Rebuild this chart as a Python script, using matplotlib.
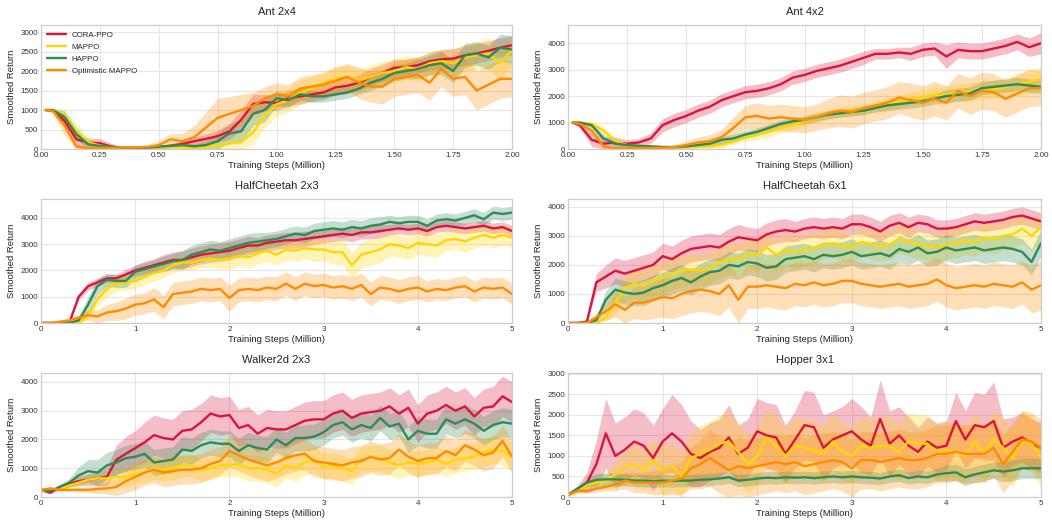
import numpy as np
import matplotlib
matplotlib.use('Agg')
import matplotlib.pyplot as plt

plt.style.use('seaborn-v0_8-whitegrid')
plt.rcParams['font.family'] = ['Liberation Sans', 'DejaVu Sans']

methods = ['CORA-PPO', 'MAPPO', 'HAPPO', 'Optimistic MAPPO']
colors = ['#DC143C', '#FFD700', '#2E8B57', '#FF8C00']

# x grids (training steps, million)
x_ant = np.r_[0.02, np.arange(1, 41) * 0.05]
x_long = np.arange(51) * 0.1

# ---------------- Ant 2x4 ----------------
ant24_cora = [1000, 990, 720, 250, 160, 150, 60, 20, 30, 40, 50, 80, 130, 200, 260, 330, 450, 750, 1150, 1200,
              1180, 1300, 1350, 1400, 1450, 1580, 1620, 1700, 1850, 1950, 2080, 2100, 2150, 2250, 2300, 2320, 2400,
              2450, 2520, 2600, 2660]
ant24_mappo = [1000, 1000, 870, 450, 170, 90, 40, 30, 30, 30, 40, 50, 40, 40, 50, 90, 140, 190, 420, 850,
               1150, 1250, 1450, 1550, 1700, 1800, 1850, 1750, 1850, 1950, 2000, 2100, 2050, 2200, 2250, 2200, 2350,
               2400, 2450, 2200, 2550]
ant24_happo = [1000, 1000, 820, 380, 120, 80, 60, 30, 30, 30, 60, 80, 100, 70, 100, 200, 400, 450, 900, 1000,
               1300, 1250, 1400, 1350, 1350, 1400, 1450, 1550, 1700, 1800, 1950, 2000, 2050, 2150, 2200, 2000, 2400,
               2450, 2350, 2600, 2550]
ant24_opt = [1000, 980, 600, 60, 20, 30, 30, 40, 40, 50, 100, 250, 200, 300, 550, 800, 900, 1000, 1100, 1300,
             1400, 1350, 1550, 1600, 1650, 1750, 1850, 1700, 1600, 1600, 1800, 1850, 1900, 1700, 2050, 1800, 1850,
             1500, 1650, 1800, 1800]
ant24_cora_bw = [20, 40, 150, 150, 120, 120, 80, 40, 30, 30, 40, 60, 80, 100, 120, 150, 200, 250, 250, 200,
                 200, 200, 200, 180, 180, 200, 200, 200, 220, 220, 220, 200, 200, 220, 250, 250, 250, 250, 250, 250, 250]
ant24_mappo_bw = [20, 40, 150, 200, 120, 80, 40, 30, 30, 30, 40, 50, 60, 80, 100, 150, 200, 250, 300, 300,
                  300, 300, 300, 300, 300, 300, 300, 300, 300, 300, 300, 300, 300, 300, 300, 350, 350, 350, 400, 450, 400]
ant24_happo_bw = [20, 40, 150, 150, 100, 60, 40, 30, 30, 30, 40, 50, 60, 60, 100, 200, 250, 300, 300, 300,
                  200, 150, 150, 150, 150, 150, 150, 150, 200, 200, 200, 200, 250, 250, 300, 300, 300, 300, 300, 350, 350]
ant24_opt_bw = [30, 60, 250, 100, 30, 30, 30, 40, 50, 60, 100, 150, 200, 300, 400, 500, 450, 400, 350, 300,
                300, 300, 300, 300, 300, 350, 350, 400, 400, 450, 450, 450, 450, 450, 450, 450, 450, 500, 500, 500, 450]

# ---------------- Ant 4x2 ----------------
ant42_cora = [1000, 900, 350, 200, 250, 200, 250, 400, 900, 1100, 1250, 1450, 1600, 1850, 2000, 2150, 2200, 2300,
              2450, 2700, 2800, 2950, 3050, 3150, 3300, 3450, 3600, 3600, 3650, 3600, 3750, 3800, 3500, 3750, 3700,
              3700, 3800, 3900, 4050, 3850, 4000]
ant42_mappo = [1000, 1000, 950, 700, 300, 150, 100, 80, 60, 60, 70, 100, 120, 150, 300, 450, 550, 650, 800, 900,
               1050, 1200, 1300, 1400, 1450, 1500, 1600, 1700, 1800, 1900, 1950, 2050, 2050, 2150, 2150, 2250, 2250,
               2350, 2450, 2550, 2650]
ant42_happo = [1000, 1000, 900, 400, 200, 150, 120, 100, 80, 70, 100, 150, 200, 350, 400, 550, 650, 800, 950, 1050,
               1100, 1200, 1300, 1350, 1400, 1450, 1550, 1650, 1700, 1750, 1800, 1900, 2000, 2050, 2100, 2300, 2350,
               2400, 2450, 2400, 2350]
ant42_opt = [1000, 950, 700, 100, 30, 30, 40, 40, 50, 80, 150, 250, 300, 450, 800, 1200, 1250, 1150, 1200, 1150,
             1100, 1200, 1350, 1450, 1400, 1550, 1650, 1750, 1950, 1850, 1750, 1900, 1750, 2200, 2000, 2200, 2150,
             1900, 2100, 2300, 2300]
ant42_cora_bw = [30, 100, 250, 250, 200, 150, 150, 200, 250, 250, 250, 250, 250, 250, 250, 250, 250, 250, 250, 250,
                 250, 250, 250, 250, 250, 250, 200, 200, 200, 250, 250, 250, 450, 300, 300, 300, 300, 300, 300, 350, 400]
ant42_mappo_bw = [30, 30, 80, 150, 150, 100, 60, 50, 40, 40, 50, 60, 80, 100, 150, 150, 200, 200, 200, 200,
                  200, 200, 200, 200, 200, 200, 200, 250, 250, 250, 250, 300, 300, 300, 350, 350, 350, 350, 400, 450, 450]
ant42_happo_bw = [30, 30, 100, 150, 100, 80, 60, 50, 40, 40, 50, 80, 100, 150, 150, 150, 150, 150, 150, 150,
                  150, 150, 150, 150, 150, 150, 150, 200, 200, 200, 200, 200, 250, 250, 250, 250, 250, 250, 250, 250, 250]
ant42_opt_bw = [30, 60, 150, 100, 30, 30, 40, 40, 50, 80, 150, 200, 250, 300, 400, 450, 500, 500, 500, 500,
                500, 500, 550, 600, 600, 600, 600, 600, 600, 650, 650, 650, 650, 650, 700, 700, 700, 700, 700, 700, 650]

# ---------------- HalfCheetah 2x3 ----------------
hc23_cora = [0, 0, 0, 0, 1000, 1400, 1550, 1700, 1700, 1850, 2000, 2100, 2200, 2300, 2400, 2400, 2500, 2600, 2650,
             2700, 2750, 2850, 2950, 2950, 3050, 3100, 3150, 3150, 3200, 3250, 3300, 3350, 3400, 3350, 3450, 3450,
             3500, 3550, 3600, 3550, 3600, 3500, 3650, 3700, 3650, 3600, 3650, 3700, 3600, 3650, 3500]
hc23_mappo = [0, 0, 0, 0, 0, 300, 900, 1300, 1500, 1550, 1600, 1750, 1900, 2000, 2200, 2300, 2300, 2400, 2450,
              2400, 2450, 2550, 2500, 2650, 2750, 2600, 2800, 2750, 2850, 2800, 2800, 2700, 2700, 2200, 2600, 2700,
              2800, 3000, 2950, 2850, 3050, 3000, 2950, 3150, 3200, 3100, 3250, 3350, 3250, 3350, 3250]
hc23_happo = [0, 0, 0, 0, 100, 700, 1400, 1650, 1600, 1600, 1950, 2050, 2150, 2250, 2350, 2400, 2600, 2700, 2800,
              2750, 2850, 2950, 3050, 3100, 3150, 3200, 3300, 3400, 3350, 3500, 3550, 3600, 3550, 3650, 3600, 3700,
              3750, 3850, 3800, 3850, 3850, 3700, 3900, 3950, 3900, 4000, 4100, 3950, 4200, 4150, 4200]
hc23_opt = [0, 0, 50, 100, 200, 300, 250, 400, 450, 550, 700, 750, 900, 600, 1100, 1150, 1200, 1300, 1250, 1300,
            950, 1250, 1300, 1250, 1350, 1300, 1500, 1300, 1500, 1400, 1450, 1350, 1400, 1300, 1450, 1100, 1350,
            1300, 1200, 1300, 1350, 1200, 1300, 1250, 1350, 1400, 1200, 1350, 1300, 1350, 1100]
hc23_cora_bw = [20, 20, 20, 20, 100, 150, 150, 150, 150, 200, 200, 250, 250, 300, 300, 350, 350, 350, 350, 350,
                350, 350, 350, 300, 300, 300, 300, 300, 300, 250, 250, 250, 250, 250, 250, 250, 250, 200, 200, 200,
                200, 200, 200, 200, 200, 200, 200, 200, 200, 200, 200]
hc23_mappo_bw = [20, 20, 20, 20, 20, 150, 250, 300, 300, 300, 300, 300, 300, 300, 300, 300, 300, 300, 350, 350,
                 400, 400, 400, 400, 400, 400, 400, 400, 400, 450, 450, 450, 500, 500, 500, 500, 500, 450, 450, 450,
                 450, 450, 450, 400, 400, 400, 400, 400, 400, 400, 400]
hc23_happo_bw = [20, 20, 20, 20, 100, 300, 300, 250, 250, 250, 250, 250, 250, 300, 300, 350, 350, 350, 350, 350,
                 350, 350, 350, 350, 300, 300, 300, 300, 300, 300, 300, 300, 300, 300, 300, 300, 300, 250, 250, 250,
                 250, 250, 250, 250, 250, 250, 250, 250, 250, 250, 250]
hc23_opt_bw = [50, 50, 60, 100, 150, 200, 250, 300, 350, 400, 400, 400, 450, 450, 450, 450, 450, 450, 450, 450,
               500, 450, 450, 450, 450, 450, 450, 450, 450, 450, 450, 450, 450, 450, 450, 450, 450, 450, 450, 450,
               450, 400, 400, 400, 400, 400, 400, 400, 400, 400, 400]

# ---------------- HalfCheetah 6x1 ----------------
hc61_cora = [0, 0, 50, 1400, 1600, 1800, 1700, 1800, 1900, 2000, 2300, 2200, 2400, 2550, 2600, 2650, 2600, 2800,
             2950, 2900, 2850, 3050, 3150, 3200, 3150, 3250, 3300, 3250, 3300, 3250, 3400, 3400, 3300, 3150, 3350,
             3450, 3300, 3450, 3400, 3250, 3250, 3300, 3400, 3500, 3450, 3500, 3550, 3650, 3700, 3600, 3500]
hc61_mappo = [0, 0, 0, 0, 200, 700, 1200, 1350, 1300, 1450, 1550, 1700, 1800, 1850, 1800, 1900, 2100, 2200, 2200,
              2350, 2350, 2600, 2350, 2500, 2450, 2500, 2600, 2700, 2750, 2650, 2600, 2800, 2700, 2650, 2700, 2900,
              2800, 2700, 2650, 2600, 2700, 2750, 2850, 2800, 2950, 2900, 3000, 3050, 3250, 3000, 3300]
hc61_happo = [0, 0, 0, 100, 800, 1150, 1050, 1000, 1050, 1200, 1300, 1450, 1550, 1400, 1600, 1750, 1800, 2000,
              1950, 2100, 2050, 1900, 1950, 2200, 2250, 2300, 2200, 2350, 2300, 2350, 2450, 2300, 2350, 2400, 2300,
              2550, 2450, 2600, 2400, 2450, 2600, 2500, 2550, 2600, 2500, 2550, 2600, 2550, 2450, 2100, 2750]
hc61_opt = [0, 0, 0, 200, 400, 650, 450, 700, 700, 800, 900, 850, 1000, 1100, 1150, 1100, 1000, 1300, 800, 1250,
            1250, 1300, 1250, 1200, 1350, 1300, 1400, 1300, 1350, 1450, 1450, 1350, 1300, 1250, 1300, 1350, 1250,
            1300, 1350, 1500, 1300, 1200, 1250, 1300, 1250, 1350, 1300, 1250, 1400, 1150, 1300]
hc61_cora_bw = [20, 20, 50, 300, 400, 450, 450, 450, 450, 450, 450, 450, 450, 450, 450, 450, 450, 450, 450, 400,
                400, 400, 400, 400, 350, 350, 350, 350, 350, 350, 350, 350, 350, 350, 350, 350, 350, 300, 300, 300,
                300, 300, 300, 300, 300, 300, 300, 300, 300, 300, 300]
hc61_mappo_bw = [20, 20, 20, 20, 150, 400, 450, 500, 550, 550] + [550] * 17 + [500] * 24
hc61_happo_bw = [20, 20, 20, 100, 300, 400, 400, 400, 450, 450] + [450] * 41
hc61_opt_bw = [50, 50, 50, 150, 300, 450, 450, 550, 600, 650, 700, 700, 750, 750, 750, 750, 750, 750, 800, 750] \
    + [750] * 29 + [800, 850]

# ---------------- Walker2d 2x3 ----------------
w23_cora = [250, 150, 350, 450, 550, 600, 650, 700, 1300, 1500,
            1700, 1900, 2150, 2050, 2000, 2300, 2350, 2600, 2900, 2800,
            2850, 2400, 2500, 2200, 2400, 2350, 2350, 2500, 2650, 2700,
            2700, 2900, 3000, 2750, 2900, 2950, 3000, 3150, 2900, 3100,
            2550, 2900, 3000, 3200, 3000, 3150, 2800, 3100, 3150, 3500, 3300]
w23_mappo = [200, 250, 300, 400, 500, 600, 650, 650, 700, 700,
             800, 850, 1000, 950, 1000, 1100, 1100, 950, 1000, 1100,
             1100, 1150, 1000, 1000, 950, 800, 1100, 1000, 1200, 1300,
             1050, 1100, 1000, 900, 1300, 1350, 1350, 1200, 1100, 1200,
             1150, 1200, 1300, 1150, 1300, 1350, 1400, 1550, 1650, 1600, 1400]
w23_happo = [250, 200, 350, 500, 750, 900, 850, 1100, 1200, 1350,
             1400, 1500, 1200, 1250, 1300, 1650, 1600, 1800, 1900, 1850,
             1850, 1600, 1800, 1700, 1650, 2000, 1800, 2050, 2050, 2100,
             2250, 2500, 2600, 2350, 2500, 2400, 2750, 2450, 2550, 2000,
             2300, 2200, 2200, 2700, 2550, 2700, 2550, 2300, 2500, 2600, 2550]
w23_opt = [250, 300, 250, 250, 250, 250, 280, 300, 350, 550,
           700, 850, 950, 850, 900, 950, 950, 1000, 1150, 1250,
           1600, 1450, 1300, 1200, 1100, 1200, 1350, 1450, 1500, 1250,
           1200, 1150, 1100, 1200, 1250, 1400, 1300, 1350, 1650, 1400,
           1250, 1350, 1350, 1600, 1450, 1800, 1650, 1450, 1550, 1950, 1400]
w23_cora_bw = [50, 50, 80, 100, 150, 200, 250, 300, 500, 600, 600, 700, 700, 700, 700, 700, 700, 650, 650, 650] \
    + [650] * 28 + [700, 700, 700]
w23_mappo_bw = [50, 50, 80, 100, 150, 150, 200, 250, 300, 350, 350, 350, 400, 400, 400, 400, 400, 400, 400, 400,
                400] + [450] * 26 + [500, 500, 500, 500]
w23_happo_bw = [50, 50, 80, 150, 300, 400, 450, 450, 450, 450] + [450] * 30 + [500] * 11
w23_opt_bw = [50, 50, 60, 60, 80, 100, 150, 200, 300, 400, 450, 450, 450, 500, 500, 500, 500, 500, 500, 500] \
    + [550] * 31

# ---------------- Hopper 3x1 ----------------
hop_cora = [50, 200, 350, 800, 1550, 1000, 1150, 1350, 1250, 950,
            1350, 1550, 1350, 1050, 950, 1100, 1200, 1450, 1050, 1200,
            1600, 1500, 1450, 1050, 1400, 1750, 1700, 1200, 1400, 1500,
            1600, 1400, 1250, 1900, 1300, 1500, 1250, 1100, 1350, 1200,
            1250, 1850, 1400, 1750, 1700, 1850, 1200, 1350, 1450, 1300, 1200]
hop_mappo = [50, 150, 300, 350, 400, 550, 700, 800, 650, 900,
             650, 750, 500, 950, 1050, 1150, 1300, 1350, 1100, 800,
             1000, 1450, 1250, 1000, 1250, 1200, 1150, 1050, 1350, 1100,
             1000, 1250, 1200, 1250, 1250, 1100, 1350, 1300, 1300, 1050,
             1150, 1100, 1000, 1350, 1050, 1400, 1200, 950, 1400, 1300, 950]
hop_happo = [50, 200, 350, 420, 430, 430, 420, 400, 400, 380,
             400, 390, 400, 400, 420, 430, 450, 480, 400, 420,
             450, 470, 460, 480, 470, 480, 460, 480, 500, 480,
             500, 480, 470, 450, 500, 530, 460, 500, 480, 550,
             580, 600, 480, 550, 600, 650, 620, 650, 700, 700, 700]
hop_opt = [50, 150, 150, 200, 250, 300, 400, 350, 350, 350,
           350, 400, 450, 700, 800, 950, 800, 650, 750, 700,
           750, 800, 850, 800, 850, 750, 800, 850, 900, 850,
           700, 900, 900, 850, 900, 950, 900, 900, 950, 1050,
           1050, 1100, 1050, 1050, 1050, 1200, 800, 1100, 1400, 1350, 1200]
hop_cora_bw = [20, 80, 250, 600, 850, 800, 800, 800, 800, 800,
               800, 950, 900, 800, 700, 700, 700, 800, 700, 700,
               800, 800, 800, 700, 700, 850, 850, 800, 700, 700,
               800, 800, 700, 950, 800, 700, 700, 600, 600, 600,
               600, 700, 700, 800, 800, 950, 700, 600, 600, 600, 600]
hop_mappo_bw = [20, 50, 100, 150, 200, 300, 400, 500, 500, 500] + [600] * 4 + [700] * 37
hop_happo_bw = [20, 50, 100, 150, 150, 150, 150, 150, 150, 150] + [150] * 30 + [200] * 6 + [250] * 5
hop_opt_bw = [20, 50, 50, 80, 100, 150, 200, 250, 250, 300, 300, 350, 400, 500, 600] + [700] * 36

panels = [
    ('Ant 2x4', x_ant, [ant24_cora, ant24_mappo, ant24_happo, ant24_opt],
     [ant24_cora_bw, ant24_mappo_bw, ant24_happo_bw, ant24_opt_bw], 3180, [0, 500, 1000, 1500, 2000, 2500, 3000]),
    ('Ant 4x2', x_ant, [ant42_cora, ant42_mappo, ant42_happo, ant42_opt],
     [ant42_cora_bw, ant42_mappo_bw, ant42_happo_bw, ant42_opt_bw], 4690, [0, 1000, 2000, 3000, 4000]),
    ('HalfCheetah 2x3', x_long, [hc23_cora, hc23_mappo, hc23_happo, hc23_opt],
     [hc23_cora_bw, hc23_mappo_bw, hc23_happo_bw, hc23_opt_bw], 4720, [0, 1000, 2000, 3000, 4000]),
    ('HalfCheetah 6x1', x_long, [hc61_cora, hc61_mappo, hc61_happo, hc61_opt],
     [hc61_cora_bw, hc61_mappo_bw, hc61_happo_bw, hc61_opt_bw], 4270, [0, 1000, 2000, 3000, 4000]),
    ('Walker2d 2x3', x_long, [w23_cora, w23_mappo, w23_happo, w23_opt],
     [w23_cora_bw, w23_mappo_bw, w23_happo_bw, w23_opt_bw], 4310, [0, 1000, 2000, 3000, 4000]),
    ('Hopper 3x1', x_long, [hop_cora, hop_mappo, hop_happo, hop_opt],
     [hop_cora_bw, hop_mappo_bw, hop_happo_bw, hop_opt_bw], 3020, [0, 500, 1000, 1500, 2000, 2500, 3000]),
]

fig = plt.figure(figsize=(10.52, 5.22), dpi=100)
W, H = 1052.0, 522.0
col_rects = [(41, 471), (568, 473)]
row_bottoms = [149, 323, 497]

for i, (title, xs, means, bws, ytop, yticks) in enumerate(panels):
    r, c = divmod(i, 2)
    left, width = col_rects[c]
    bottom = row_bottoms[r]
    ax = fig.add_axes([left / W, 1 - bottom / H, width / W, 124 / H])
    for name, col, m, bw in zip(methods, colors, means, bws):
        m = np.asarray(m, float)
        bw = np.asarray(bw, float)
        ax.fill_between(xs, np.clip(m - bw, 0, None), m + bw, color=col, alpha=0.28, lw=0)
        ax.plot(xs, m, color=col, lw=1.7, label=name)
    ax.set_ylim(0, ytop)
    ax.set_yticks(yticks)
    if xs is x_ant:
        ax.set_xlim(0, 2.0)
        xt = [0, 0.25, 0.5, 0.75, 1.0, 1.25, 1.5, 1.75, 2.0]
        ax.set_xticks(xt)
        ax.set_xticklabels(['%.2f' % v for v in xt])
    else:
        ax.set_xlim(0, 5)
        ax.set_xticks([0, 1, 2, 3, 4, 5])
    ax.tick_params(axis='both', labelsize=5.8, colors='#333333', length=0, pad=2)
    ax.grid(True, color='#e6e6e6', lw=0.8)
    for s in ax.spines.values():
        s.set_color('#cccccc')
        s.set_linewidth(0.9)
    ax.set_title(title, fontsize=8, color='#222222', pad=7)
    ax.set_xlabel('Training Steps (Million)', fontsize=6.8, color='#222222', labelpad=1.5)
    ax.set_ylabel('Smoothed Return', fontsize=6.8, color='#222222', labelpad=3)
    if i == 0:
        ax.legend(loc='upper left', fontsize=5.7, frameon=False, handlelength=2.3,
                  borderaxespad=0.4, labelspacing=0.55)

fig.savefig('out.png', dpi=100)
